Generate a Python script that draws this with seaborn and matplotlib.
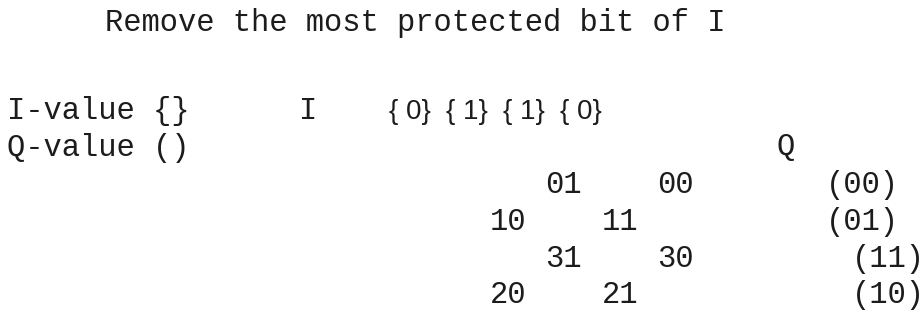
import matplotlib
matplotlib.use("Agg")
import matplotlib.pyplot as plt
import seaborn as sns

# text content
title = "Remove the most protected bit of I"
i_label = "I-value {}"
q_label = "Q-value ()"
i_axis = "I"
q_axis = "Q"
i_bits = [0, 1, 1, 0]

# constellation rows (symbol pairs) and their Q codes
symbol_rows = [["01", "00"], ["10", "11"], ["31", "30"], ["20", "21"]]
q_codes = ["00", "01", "11", "10"]

# layout in pixel coords
row_base = [193, 230, 267, 303]
row_shift = [55, 0, 55, 0]
sym_x0 = 490
sym_gap = 112
code_x = [826, 826, 852, 852]

sns.set_theme(style="white")
plt.rcParams['font.family'] = ['Liberation Mono', 'DejaVu Sans Mono']

fig = plt.figure(figsize=(9.24, 3.13), dpi=100)
ax = fig.add_axes([0, 0, 1, 1])
ax.set_xlim(0, 924)
ax.set_ylim(313, 0)
ax.axis('off')

txt = dict(fontsize=22, color='#1c1c1c', ha='left', va='baseline')

ax.text(105, 31, title, **txt)
ax.text(7, 119, i_label, **txt)
ax.text(299, 119, i_axis, **txt)
ax.text(7, 156, q_label, **txt)
ax.text(777, 155, q_axis, **txt)

# I bits in a lighter sans face
for k, b in enumerate(i_bits):
    ax.text(389 + k * 57, 119, "{ %d}" % b, fontsize=20, color='#1c1c1c',
            ha='left', va='baseline', family='Liberation Sans')

for r, pair in enumerate(symbol_rows):
    for c, s in enumerate(pair):
        ax.text(sym_x0 + row_shift[r] + c * sym_gap, row_base[r], s, **txt)
    ax.text(code_x[r], row_base[r], "(%s)" % q_codes[r], **txt)

fig.savefig("out.png", dpi=100)
plt.close(fig)
